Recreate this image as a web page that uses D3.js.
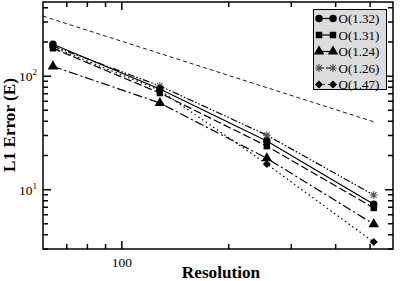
<!DOCTYPE html>
<html>
<head>
<meta charset="utf-8">
<script src="https://cdn.jsdelivr.net/npm/d3@7"></script>
<style>
  body { margin: 0; background: #fff; }
  svg text { font-family: "Liberation Serif", "Times New Roman", serif; fill: #000; }
</style>
</head>
<body>
<svg id="chart" width="400" height="281"></svg>
<script>
// resolutions
const resolution = [64, 128, 256, 512];

// L1 error per series
const circleErr = [191, 77, 26.8, 7.45];
const squareErr = [176, 71, 24.2, 6.9];
const triangleErr = [122, 58, 18.9, 4.97];
const starErr = [184, 82, 30.2, 8.96];
const diamondErr = [180, 75, 16.8, 3.45];

// reference slope line
const refRes = [60, 512];
const refErr = [338, 39.6];

const legendLabels = ["O(1.32)", "O(1.31)", "O(1.24)", "O(1.26)", "O(1.47)"];

const xMajor = [100];
const xMinor = [70, 80, 90, 200, 300, 400, 500];
const yMajor = [10, 100];
const yMinor = [3, 4, 5, 6, 7, 8, 9, 20, 30, 40, 50, 60, 70, 80, 90, 200, 300, 400];

const svg = d3.select("#chart");
const pLeft = 43, pRight = 393, pTop = 2, pBottom = 249;

const x = d3.scaleLog().domain([60, 580]).range([pLeft, pRight]);
const y = d3.scaleLog().domain([3, 450]).range([pBottom, pTop]);

// frame
svg.append("rect")
  .attr("x", pLeft).attr("y", pTop)
  .attr("width", pRight - pLeft).attr("height", pBottom - pTop)
  .attr("fill", "none").attr("stroke", "#000").attr("stroke-width", 1.5);

// ticks, pointing inward on all four sides
const xTicks = xMajor.map((v) => ({ v, len: 8 })).concat(xMinor.map((v) => ({ v, len: 5 })));
const yTicks = yMajor.map((v) => ({ v, len: 8 })).concat(yMinor.map((v) => ({ v, len: 5 })));
const tp = d3.path();
xTicks.forEach((d) => {
  const px = x(d.v);
  tp.moveTo(px, pBottom); tp.lineTo(px, pBottom - d.len);
  tp.moveTo(px, pTop); tp.lineTo(px, pTop + d.len);
});
yTicks.forEach((d) => {
  const py = y(d.v);
  tp.moveTo(pLeft, py); tp.lineTo(pLeft + d.len, py);
  tp.moveTo(pRight, py); tp.lineTo(pRight - d.len, py);
});
svg.append("path")
  .attr("d", tp.toString())
  .attr("fill", "none").attr("stroke", "#000").attr("stroke-width", 1.5);

// tick labels
svg.append("g").selectAll("text").data(xMajor).join("text")
  .attr("x", (d) => x(d)).attr("y", pBottom + 18)
  .attr("text-anchor", "middle")
  .style("font-size", "13.5px")
  .text((d) => d);

svg.append("g").selectAll("text").data(yMajor).join("text")
  .attr("x", pLeft - 6).attr("y", (d) => y(d) + 5)
  .attr("text-anchor", "end")
  .style("font-size", "13.5px")
  .each(function (d) {
    const t = d3.select(this);
    t.append("tspan").text("10");
    t.append("tspan").attr("dy", -6).style("font-size", "9px")
      .text(Math.round(Math.log10(d)));
  });

// axis titles
svg.append("text")
  .attr("x", 221).attr("y", 278)
  .attr("text-anchor", "middle")
  .style("font-size", "17.2px").style("font-weight", "bold")
  .text("Resolution");

svg.append("text")
  .attr("transform", `translate(15,125) rotate(-90)`)
  .attr("text-anchor", "middle")
  .style("font-size", "17.2px").style("font-weight", "bold")
  .text("L1 Error (E)");

// reference line
const line = d3.line().x((d) => x(d[0])).y((d) => y(d[1]));
svg.append("path")
  .datum(d3.zip(refRes, refErr))
  .attr("d", line)
  .attr("fill", "none").attr("stroke", "#000")
  .attr("stroke-width", 0.9).attr("stroke-dasharray", "4,3");

// grace-like star: plus + x
const starPath = (r) => {
  const p = d3.path();
  const k = r * Math.SQRT1_2;
  p.moveTo(-r, 0); p.lineTo(r, 0);
  p.moveTo(0, -r); p.lineTo(0, r);
  p.moveTo(-k, -k); p.lineTo(k, k);
  p.moveTo(-k, k); p.lineTo(k, -k);
  return p.toString();
};
const diamondPath = (r) => `M0,${-r}L${r},0L0,${r}L${-r},0Z`;

const series = [
  { vals: circleErr, dash: null, legDash: null, path: d3.symbol().type(d3.symbolCircle).size(44)() },
  { vals: squareErr, dash: "8,3", legDash: null, path: d3.symbol().type(d3.symbolSquare).size(42)() },
  { vals: triangleErr, dash: "9,3,2,3", legDash: null, path: d3.symbol().type(d3.symbolTriangle).size(48)() },
  { vals: starErr, dash: "7,2,1.5,2,1.5,2", legDash: "5,2", path: starPath(4), stroke: true },
  { vals: diamondErr, dash: "1.5,3", legDash: "1.5,3", path: diamondPath(4) },
];

const drawSymbol = (g, s, cx, cy) => {
  const p = g.append("path")
    .attr("d", s.path)
    .attr("transform", `translate(${cx},${cy})`);
  if (s.stroke) p.attr("fill", "none").attr("stroke", "#555").attr("stroke-width", 1.1);
  else p.attr("fill", "#000");
};

// lines first, markers on top
series.forEach((s) => {
  svg.append("path")
    .datum(d3.zip(resolution, s.vals))
    .attr("d", line)
    .attr("fill", "none").attr("stroke", "#000")
    .attr("stroke-width", 1.2)
    .attr("stroke-dasharray", s.dash);
});
const marks = svg.append("g");
series.slice().reverse().forEach((s) => {
  resolution.forEach((r, i) => drawSymbol(marks, s, x(r), y(s.vals[i])));
});

// legend
const lg = svg.append("g");
lg.append("rect")
  .attr("x", 313.5).attr("y", 9.5).attr("width", 73).attr("height", 80)
  .attr("fill", "#dcdcdc").attr("stroke", "#000").attr("stroke-width", 1);
series.forEach((s, i) => {
  const cy = 18.5 + i * 16.5;
  lg.append("line")
    .attr("x1", 319).attr("x2", 333).attr("y1", cy).attr("y2", cy)
    .attr("stroke", "#000").attr("stroke-width", 1.2)
    .attr("stroke-dasharray", s.legDash);
  drawSymbol(lg, s, 319, cy);
  drawSymbol(lg, s, 333, cy);
  lg.append("text")
    .attr("x", 338.5).attr("y", cy + 4.5)
    .style("font-size", "13px")
    .text(legendLabels[i]);
});
</script>
</body>
</html>
